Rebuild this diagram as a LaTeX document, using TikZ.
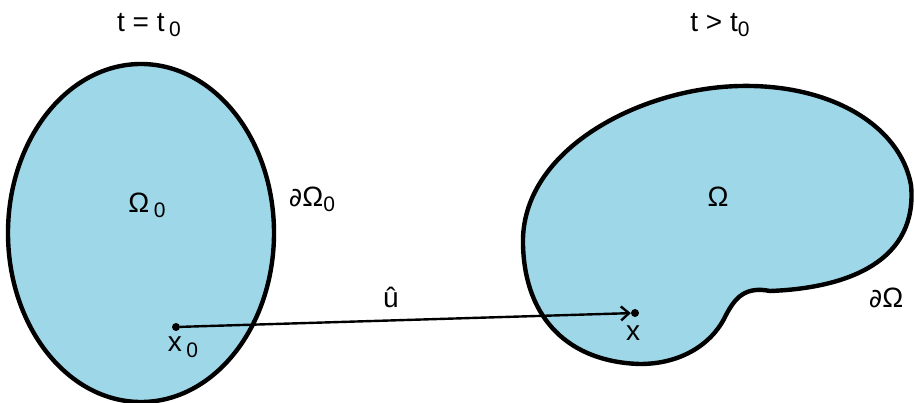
\documentclass[tikz,border=0pt]{standalone}
\usepackage{fontspec}
\setmainfont{Liberation Sans}
\newfontfamily\pdfont{DejaVu Sans}
\usetikzlibrary{arrows.meta}
\definecolor{region}{RGB}{158,215,232}
\tikzset{
  regionshape/.style={fill=region, draw=black, line width=4.4pt},
  lbl/.style={font=\fontsize{28}{32}\selectfont, inner sep=0pt},
  pt/.style={circle, fill=black, inner sep=0pt, minimum size=8pt},
}
\newcommand{\subz}{\raisebox{-0.35ex}{\fontsize{21}{24}\selectfont 0}}
\newcommand{\pd}{{\pdfont\fontsize{26}{30}\selectfont ∂}}
\begin{document}
\begin{tikzpicture}[x=1pt,y=-1pt]
\useasboundingbox (0,0) rectangle (915,403);
% left region
\draw[regionshape] (141,233) ellipse [x radius=133, y radius=169];
% right region
\draw[regionshape] (523,245)
  .. controls (520,150) and (640,88) .. (740,86)
  .. controls (830,84) and (900,125) .. (911,185)
  .. controls (918,260) and (850,288) .. (770,291)
  .. controls (745,286) and (735,298) .. (726,315)
  .. controls (712,345) and (680,364) .. (640,364)
  .. controls (570,362) and (525,320) .. (523,245) -- cycle;
% labels
\node[lbl] (t0) at (149,25) {t = t\,\subz};
\node[lbl] (t1) at (720,25) {t > t\subz};
\node[lbl] (om0) at (147,205) {Ω\,\subz};
\node[lbl] (dom0) at (312,199) {\pd Ω\subz};
\node[lbl] (om) at (718,197) {Ω};
\node[lbl] (dom) at (886,298) {\pd Ω};
% points
\node[pt] (x0) at (176,327) {};
\node[pt] (x) at (635,313) {};
\node[lbl, anchor=north] (x0l) at (183,337) {x\,\subz};
\node[lbl, anchor=north] (xl) at (633,326) {x};
\draw[line width=2.4pt, -{Straight Barb[length=8pt,width=14pt]}] (x0) -- (x);
\node[lbl] (u) at (391,297) {û};
\end{tikzpicture}
\end{document}
